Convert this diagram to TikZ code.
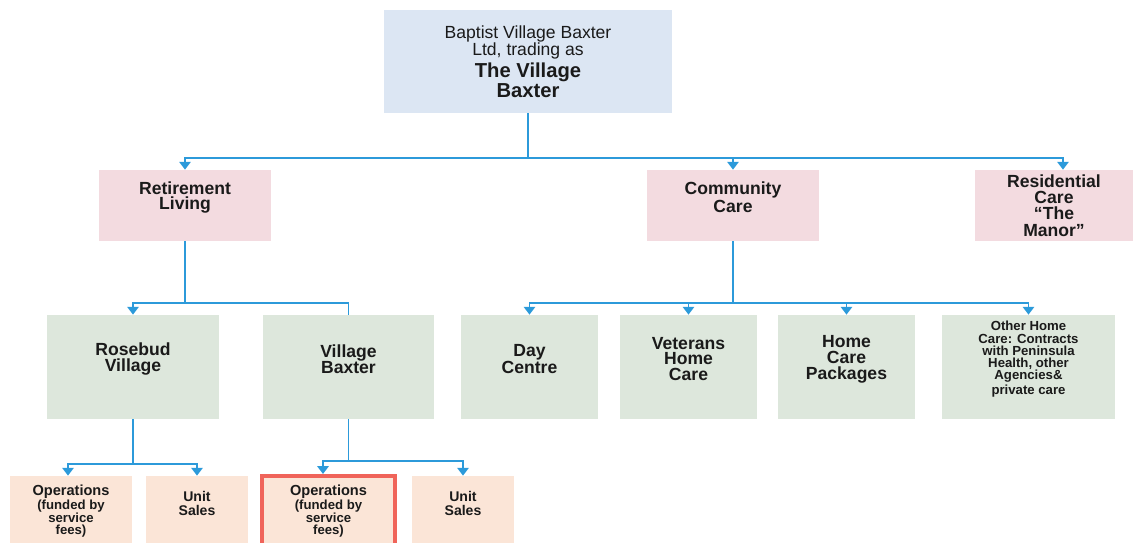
\documentclass[tikz,border=0pt]{standalone}
\usepackage{fontspec}
\setmainfont{Liberation Sans}
\usetikzlibrary{arrows.meta, positioning}
\definecolor{top_fill}{HTML}{DCE6F3}
\definecolor{pink_fill}{HTML}{F3DBE0}
\definecolor{green_fill}{HTML}{DDE7DC}
\definecolor{peach_fill}{HTML}{FBE5D7}
\definecolor{line_blue}{HTML}{2C9ADA}
\definecolor{red_line}{HTML}{F0645A}
\definecolor{ink}{HTML}{1A1A1A}

\begin{document}
\begin{tikzpicture}[x=0.02cm, y=-0.02cm,
	box/.style={inner sep=0pt, text=ink},
	top_box/.style={box, fill=top_fill, minimum width=5.78cm, minimum height=2.06cm, align=center, font=\fontsize{10}{9.6}\selectfont},
	pink_box/.style={box, fill=pink_fill, minimum width=3.44cm, minimum height=1.42cm},
	green_box/.style={box, fill=green_fill, minimum width=3.44cm, minimum height=2.08cm},
	small_green/.style={green_box, minimum width=2.74cm},
	peach_box/.style={box, fill=peach_fill, minimum width=2.04cm, minimum height=1.6cm},
	big_text/.style={align=center, text=ink, font=\bfseries\fontsize{10}{9}\selectfont},
	small_text/.style={align=center, text=ink, font=\bfseries\fontsize{7.5}{7}\selectfont},
	unit_text/.style={align=center, text=ink, font=\bfseries\fontsize{8}{8}\selectfont},
	link/.style={draw=line_blue, line width=1.1pt},
	arr/.style={link, -{Triangle[length=4.5pt,width=6.5pt]}}]
	\useasboundingbox (0,0) rectangle (1134,542);

	% top
	\node[top_box] (top) at (528,61.5) {Baptist Village Baxter\\Ltd, trading as\\[1pt]{\bfseries\fontsize{11.5}{11}\selectfont The Village}\\{\bfseries\fontsize{11.5}{11}\selectfont Baxter}};

	% second row
	\node[pink_box, label={[big_text, yshift=0.16cm]center:Retirement\\Living}] (retire) at (185,205.5) {};
	\node[pink_box, label={[big_text, yshift=0.16cm]center:Community\\Care}] (comm) at (733,205.5) {};
	\node[pink_box, minimum width=3.16cm, label={[big_text, font=\bfseries\fontsize{10}{9.3}\selectfont]center:Residential\\Care\\“The\\Manor”}] (resid) at (1054,205.5) {};

	% third row
	\node[green_box, label={[big_text, yshift=0.16cm]center:Rosebud\\Village}] (rose) at (133,367) {};
	\node[green_box, label={[big_text, yshift=0.16cm]center:Village\\Baxter}] (vbax) at (348.5,367) {};
	\node[small_green, label={[big_text, yshift=0.16cm]center:Day\\Centre}] (day) at (529.5,367) {};
	\node[small_green, label={[big_text, yshift=0.16cm]center:Veterans\\Home\\Care}] (vet) at (688.5,367) {};
	\node[small_green, label={[big_text, yshift=0.16cm]center:Home\\Care\\Packages}] (hcp) at (846.5,367) {};
	\node[green_box, minimum width=3.46cm, label={[small_text, yshift=0.16cm]center:{Other Home\\Care: Contracts\\with Peninsula\\Health, other\\Agencies\&\\private care}}] (other) at (1028.5,367) {};

	% bottom row
	\node[peach_box, minimum width=2.44cm, label={[small_text, yshift=0.1cm]center:{\fontsize{8.3}{7.4}\selectfont Operations}\\(funded by\\service\\fees)}] (ops_a) at (71,516) {};
	\node[peach_box, label={[unit_text, yshift=0.26cm]center:Unit\\Sales}] (unit_a) at (197,516) {};
	\node[peach_box, minimum width=2.66cm, draw=red_line, line width=2.3pt, label={[small_text, yshift=0.1cm]center:{\fontsize{8.3}{7.4}\selectfont Operations}\\(funded by\\service\\fees)}] (ops_b) at (328.5,516) {};
	\node[peach_box, label={[unit_text, yshift=0.26cm]center:Unit\\Sales}] (unit_b) at (463,516) {};

	% connectors
	\coordinate (bus_top) at (top.south |- 0,158);
	\coordinate (bus_retire) at (retire.south |- 0,303);
	\coordinate (bus_comm) at (comm.south |- 0,303);
	\coordinate (bus_rose) at (rose.south |- 0,464);
	\coordinate (bus_vbax) at (vbax.south |- 0,461);

	\draw[link] (top) -- (bus_top);
	\draw[arr] (bus_top) -| (retire.north);
	\draw[arr] (bus_top) -| (comm.north);
	\draw[arr] (bus_top) -| ([xshift=0.18cm]resid.north);

	\draw[link] (retire) -- (bus_retire);
	\draw[arr] (bus_retire) -| (rose.north);
	\draw[link] (bus_retire) -| (vbax.north);

	\draw[link] (comm) -- (bus_comm);
	\draw[arr] (bus_comm) -| (day.north);
	\draw[arr] (bus_comm) -| (vet.north);
	\draw[arr] (bus_comm) -| (hcp.north);
	\draw[arr] (bus_comm) -| (other.north);

	\draw[link] (rose) -- (bus_rose);
	\draw[arr] (bus_rose) -| ([xshift=-0.06cm]ops_a.north);
	\draw[arr] (bus_rose) -| (unit_a.north);

	\draw[link] (vbax) -- (bus_vbax);
	\draw[arr] (bus_vbax) -| ([xshift=-0.11cm]ops_b.north);
	\draw[arr] (bus_vbax) -| (unit_b.north);
\end{tikzpicture}
\end{document}
